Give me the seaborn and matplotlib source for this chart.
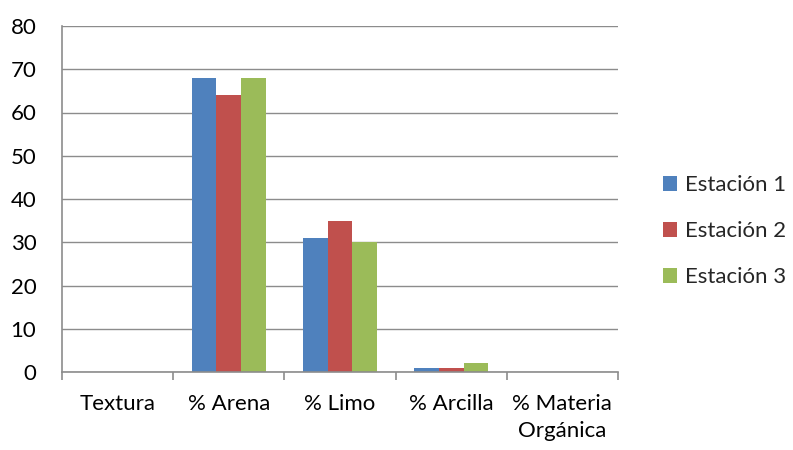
import matplotlib
matplotlib.use("Agg")
import matplotlib.pyplot as plt
import seaborn as sns
import pandas as pd
import numpy as np

categorias = ["Textura", "% Arena", "% Limo", "% Arcilla", "% Materia\nOrgánica"]
estacion_1 = [0, 68, 31, 1, 0]
estacion_2 = [0, 64, 35, 1, 0]
estacion_3 = [0, 68, 30, 2, 0]
series = ["Estación 1", "Estación 2", "Estación 3"]
colores = ["#4F81BD", "#C0504D", "#9BBB59"]

df = pd.DataFrame({
    "categoria": categorias * 3,
    "valor": estacion_1 + estacion_2 + estacion_3,
    "serie": [s for s in series for _ in categorias],
})

sns.set_theme(style="white")
plt.rcParams["font.family"] = ["Lato", "DejaVu Sans"]

fs = 16
fig = plt.figure(figsize=(7.93, 4.5), dpi=100)
ax = fig.add_axes([62 / 793, 1 - 372 / 450, (618 - 62) / 793, (372 - 26) / 450])

sns.barplot(data=df, x="categoria", y="valor", hue="serie", order=categorias,
            hue_order=series, palette=colores, width=0.667, saturation=1,
            linewidth=0, ax=ax)

grid_c = "#8C8C8C"
ax.set_ylim(0, 80)
ax.set_xlim(-0.5, len(categorias) - 0.5)
ax.set_yticks(np.arange(0, 81, 10))
ax.yaxis.grid(True, color=grid_c, linewidth=1)
ax.set_axisbelow(True)
ax.set_xlabel("")
ax.set_ylabel("")

for side in ["top", "right"]:
    ax.spines[side].set_visible(False)
for side in ["left", "bottom"]:
    ax.spines[side].set_color(grid_c)
    ax.spines[side].set_linewidth(1.2)

# category labels centered, tick marks on category boundaries
ax.set_xticks(range(len(categorias)))
ax.set_xticklabels(categorias, fontsize=fs, color="#000000", linespacing=1.4)
ax.set_xticks(np.arange(-0.5, len(categorias), 1), minor=True)
ax.tick_params(axis="x", which="major", length=0, pad=16)
ax.tick_params(axis="x", which="minor", length=5.5, width=1.2, color=grid_c, direction="out")
ax.tick_params(axis="y", length=5.5, width=1.2, color=grid_c, direction="out",
               labelsize=fs, labelcolor="#000000", pad=13)
ax.tick_params(axis="x", which="both", bottom=True)

handles, labels = ax.get_legend_handles_labels()
ax.legend(handles, labels, loc="center left", bbox_to_anchor=(643 / 793, 1 - 231 / 450),
          bbox_transform=fig.transFigure, frameon=False, fontsize=fs,
          handlelength=0.65, handleheight=0.65, handletextpad=0.35, labelspacing=1.17)

fig.savefig("out.png", dpi=100)
